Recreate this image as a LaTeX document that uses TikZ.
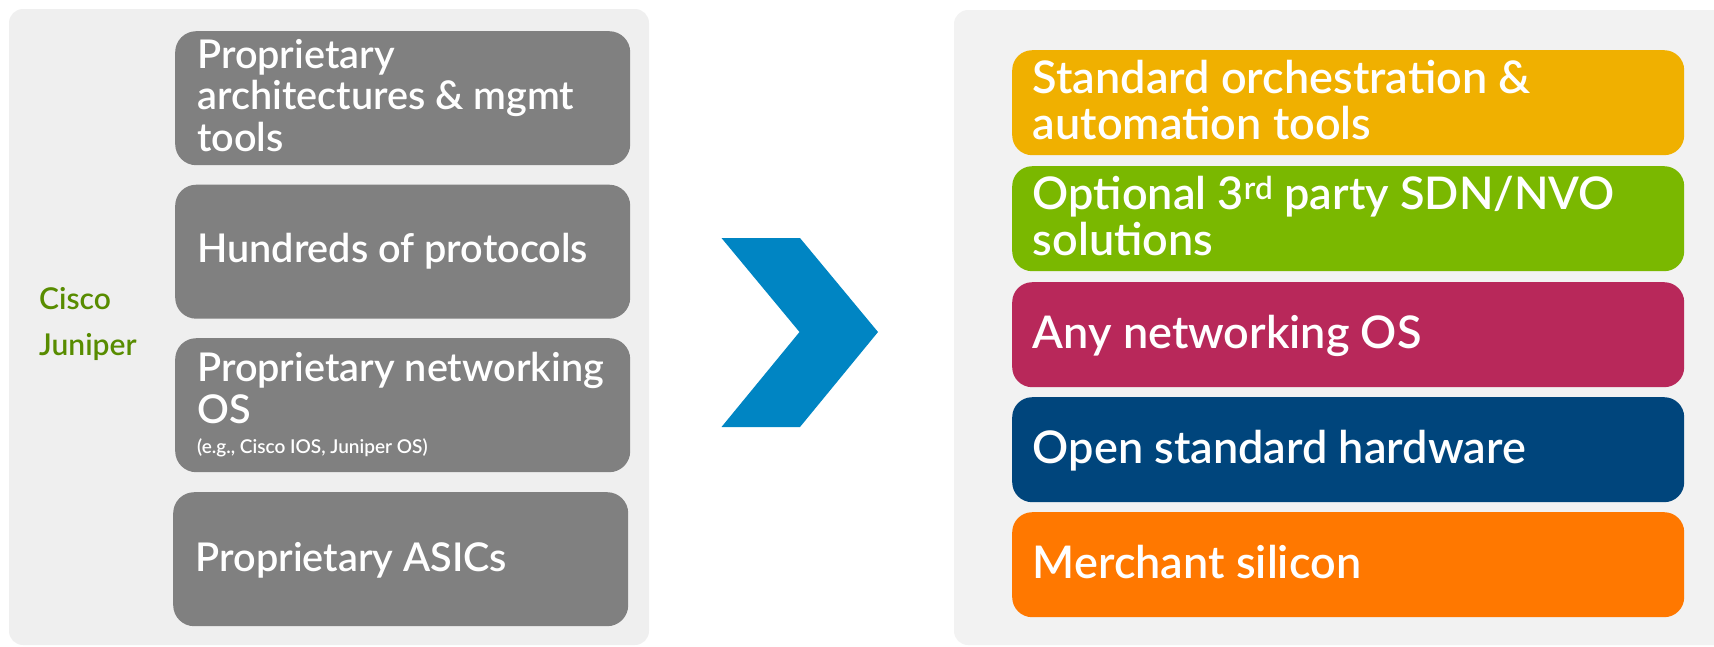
\documentclass[tikz,border=0pt]{standalone}
\usepackage{fontspec}
\setmainfont{Lato Semibold}
\definecolor{panelL}{RGB}{239,239,239}
\definecolor{panelR}{RGB}{242,242,242}
\definecolor{boxgray}{RGB}{128,128,128}
\definecolor{vendorgreen}{RGB}{88,140,0}
\definecolor{chevblue}{RGB}{0,133,195}
\definecolor{cyellow}{RGB}{240,176,0}
\definecolor{cgreen}{RGB}{122,184,0}
\definecolor{cpink}{RGB}{184,40,90}
\definecolor{cnavy}{RGB}{0,69,124}
\definecolor{corange}{RGB}{255,120,0}
\begin{document}
\begin{tikzpicture}[x=1pt,y=-1pt,
  panel/.style={rounded corners=14pt},
  lbox/.style={rectangle, rounded corners=21pt, fill=boxgray, anchor=north west,
    inner sep=0pt, minimum width=455pt, minimum height=134pt},
  rbox/.style={rectangle, rounded corners=20pt, anchor=north west,
    inner sep=0pt, minimum width=672pt, minimum height=105pt},
  ltext/.style={anchor=base west, text=white, inner sep=0pt, text width=440pt,
    align=flush left, font=\fontsize{39.6}{41.5}\selectfont},
  rtext/.style={anchor=base west, text=white, inner sep=0pt, text width=640pt,
    align=flush left, font=\fontsize{45}{46}\selectfont},
  vendor/.style={anchor=base west, text=vendorgreen, inner sep=0pt, font=\fontsize{30}{30}\selectfont},
  chev/.style={fill=chevblue}
]
\useasboundingbox (0,0) rectangle (1714,646);
\clip (0,0) rectangle (1714,646);
% panels
\fill[panelL, panel] (9,9) rectangle (649,645);
\fill[panelR, panel] (954,10) rectangle (1740,645);
% left boxes
\node[lbox] (p1) at (175,31) {};
\node[lbox] (p2) at (175,184.5) {};
\node[lbox] (p3) at (175,338) {};
\node[lbox] (p4) at (173,492) {};
\node[ltext] (t1) at (197,68.3) {Proprietary\\architectures \& mgmt\\tools};
\node[ltext] (t2) at (197,262.7) {Hundreds of protocols};
\node[ltext] (t3) at (197,381.7) {Proprietary networking\\OS\\[-11.5pt]{\fontsize{19}{20}\selectfont (e.g., Cisco IOS, Juniper OS)}};
\node[ltext] (t4) at (195.5,571) {Proprietary ASICs};
% vendors
\node[vendor] (cisco) at (39,309.7) {Cisco};
\node[vendor] (juniper) at (39,355.3) {Juniper};
% chevron
\fill[chev] (721.5,238) -- (800,238) -- (878,332) -- (800,427) -- (721.5,427) -- (799.5,332) -- cycle;
% right boxes
\node[rbox, fill=cyellow] (r1) at (1012,50) {};
\node[rbox, fill=cgreen] (r2) at (1012,166) {};
\node[rbox, fill=cpink] (r3) at (1012,282) {};
\node[rbox, fill=cnavy] (r4) at (1012,397) {};
\node[rbox, fill=corange] (r5) at (1012,512) {};
\node[rtext] (s1) at (1032.7,93.3) {Standard orchestration \&\\automation tools};
\node[rtext] (s2) at (1032.7,209) {Optional 3\textsuperscript{rd} party SDN/NVO\\solutions};
\node[rtext] (s3) at (1032.7,348) {Any networking OS};
\node[rtext] (s4) at (1032.7,463) {Open standard hardware};
\node[rtext] (s5) at (1032.7,578) {Merchant silicon};
\end{tikzpicture}
\end{document}
